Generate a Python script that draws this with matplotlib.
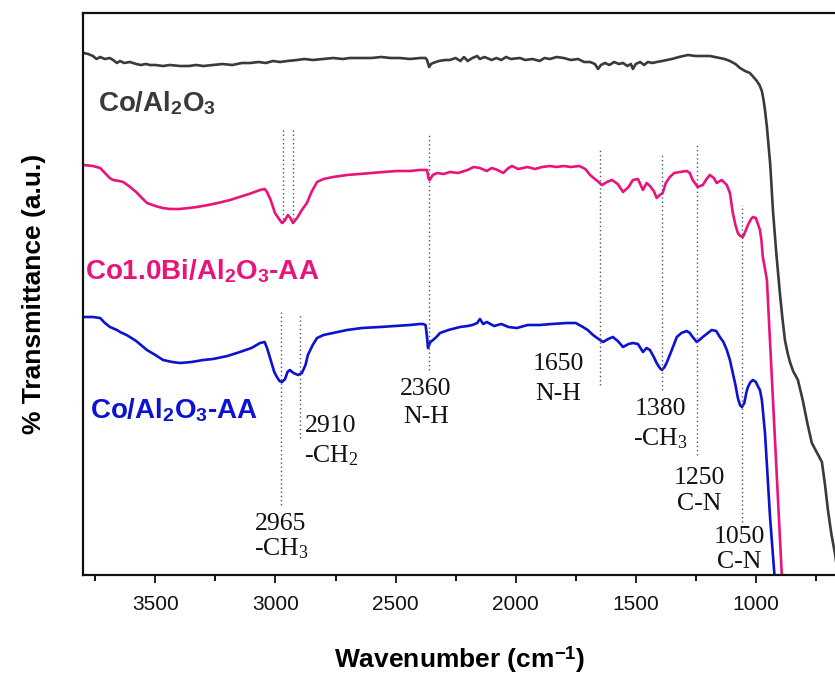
import matplotlib
matplotlib.use("Agg")
import matplotlib.pyplot as plt

# ---------------- data (wavenumber cm-1, transmittance a.u.) ----------------
wn_co = [3800, 3780, 3760, 3745, 3730, 3710, 3690, 3676, 3660, 3647, 3630, 3606, 3580, 3560,
         3540, 3522, 3500, 3468, 3440, 3397, 3360, 3330, 3300, 3260, 3220, 3180, 3140, 3106,
         3070, 3040, 3010, 2981, 2950, 2910, 2880, 2844, 2800, 2760, 2720, 2690, 2650, 2600,
         2560, 2520, 2482, 2440, 2398, 2375, 2369, 2360, 2352, 2344, 2320, 2294, 2274, 2250,
         2230, 2215, 2200, 2180, 2160, 2149, 2130, 2100, 2080, 2060, 2040, 2020, 1982, 1960,
         1930, 1900, 1880, 1857, 1830, 1800, 1770, 1740, 1715, 1690, 1670, 1657, 1645, 1628,
         1610, 1590, 1570, 1553, 1535, 1520, 1512, 1500, 1482, 1465, 1450, 1430, 1413, 1390,
         1350, 1320, 1283, 1250, 1230, 1191, 1150, 1130, 1108, 1085, 1066, 1045, 1025, 1010,
         996, 985, 975, 968, 962, 954, 940, 929, 915, 900, 890, 879, 868, 858, 845, 825, 805,
         784, 767, 745, 725, 712, 700, 685, 671, 650]
t_co = [522, 521, 519, 516, 518, 516, 517, 515, 512, 514, 512, 513, 511, 510,
        511, 510, 510, 509, 510, 509, 509, 510, 509, 510, 511, 510, 512, 512,
        513, 512, 514, 513, 514, 515, 516, 515, 516, 517, 516, 517, 517, 517,
        518, 517, 517, 516, 517, 517, 515, 508, 511, 512, 514, 515, 515, 517,
        514, 518, 514, 517, 519, 516, 518, 515, 517, 515, 518, 516, 517, 515,
        516, 514, 517, 516, 518, 517, 515, 516, 513, 513, 511, 506, 510, 512,
        510, 513, 511, 512, 509, 511, 506, 511, 513, 510, 513, 512, 513, 514,
        516, 518, 520, 519, 519, 519, 517, 516, 514, 511, 507, 504, 502, 498,
        494, 490, 484, 475, 465, 448, 410, 365, 322, 282, 258, 235, 222, 213, 204, 195, 175,
        150, 132, 122, 113, 90, 65, 40, 22, -15]

wn_bi = [3800, 3760, 3730, 3710, 3690, 3676, 3650, 3634, 3610, 3580, 3560, 3535, 3500, 3470,
         3439, 3400, 3360, 3327, 3280, 3240, 3189, 3150, 3110, 3064, 3045, 3035, 3020, 3002,
         2985, 2973, 2960, 2948, 2938, 2927, 2910, 2890, 2869, 2850, 2827, 2800, 2760, 2702,
         2650, 2600, 2550, 2494, 2440, 2400, 2369, 2362, 2358, 2345, 2327, 2300, 2273, 2240,
         2200, 2175, 2149, 2120, 2100, 2075, 2052, 2030, 2015, 1990, 1950, 1920, 1890, 1857,
         1830, 1800, 1770, 1735, 1710, 1690, 1665, 1640, 1620, 1599, 1575, 1553, 1530, 1512,
         1491, 1470, 1455, 1441, 1425, 1413, 1400, 1388, 1375, 1358, 1340, 1317, 1288, 1275,
         1263, 1242, 1221, 1205, 1192, 1175, 1163, 1142, 1121, 1108, 1096, 1085, 1075, 1065,
         1054, 1043, 1033, 1020, 1012, 1000, 990, 983, 977, 971, 962, 954, 892, 870]
t_bi = [410, 409, 407, 402, 397, 395, 394, 393, 389, 383, 378, 372, 369, 367,
        366, 366, 367, 368, 370, 372, 375, 378, 381, 385, 386, 383, 375, 362,
        356, 352, 355, 360, 357, 352, 357, 365, 372, 383, 393, 396, 398, 400,
        401, 402, 403, 404, 404, 405, 405, 396, 395, 400, 402, 401, 403, 402,
        405, 408, 407, 404, 407, 405, 402, 407, 409, 406, 408, 406, 408, 409,
        408, 409, 408, 409, 406, 400, 395, 390, 393, 395, 391, 383, 388, 395,
        396, 385, 392, 389, 384, 377, 380, 382, 392, 398, 402, 403, 404, 402,
        395, 388, 390, 396, 400, 397, 392, 395, 390, 382, 362, 350, 342, 339,
        338, 344, 350, 356, 358, 357, 350, 345, 335, 318, 306, 295, 0, -60]

wn_aa = [3800, 3760, 3730, 3710, 3689, 3660, 3647, 3620, 3606, 3580, 3560, 3535, 3500, 3468,
         3430, 3397, 3350, 3300, 3260, 3200, 3148, 3100, 3064, 3045, 3035, 3020, 3005, 2994,
         2983, 2973, 2960, 2950, 2940, 2925, 2906, 2890, 2875, 2865, 2845, 2827, 2800, 2760,
         2702, 2640, 2565, 2500, 2440, 2400, 2386, 2375, 2369, 2365, 2355, 2344, 2330, 2315,
         2280, 2232, 2200, 2180, 2160, 2149, 2135, 2120, 2090, 2060, 2030, 1995, 1950, 1900,
         1850, 1787, 1750, 1720, 1700, 1678, 1655, 1636, 1615, 1595, 1575, 1553, 1530, 1512,
         1491, 1470, 1455, 1441, 1425, 1413, 1400, 1391, 1380, 1370, 1350, 1329, 1310, 1288,
         1275, 1263, 1246, 1235, 1221, 1200, 1184, 1165, 1150, 1135, 1121, 1108, 1096, 1085,
         1075, 1066, 1058, 1048, 1040, 1033, 1022, 1012, 1000, 990, 983, 975, 962, 941, 921,
         900]
t_aa = [258, 258, 257, 252, 248, 245, 243, 240, 238, 234, 230, 225, 220, 215,
        213, 212, 213, 215, 216, 219, 223, 227, 232, 233, 227, 215, 203, 198,
        194, 193, 196, 203, 205, 202, 200, 202, 210, 220, 230, 237, 240, 242,
        245, 247, 248, 249, 250, 251, 251, 250, 238, 227, 233, 235, 238, 242,
        245, 248, 249, 250, 252, 256, 251, 253, 249, 251, 248, 247, 250, 250,
        251, 252, 252, 248, 245, 240, 236, 233, 236, 238, 234, 228, 231, 232,
        231, 223, 227, 225, 218, 212, 207, 205, 208, 213, 225, 238, 242, 244,
        242, 238, 233, 235, 238, 242, 245, 244, 238, 233, 225, 215, 202, 190,
        177, 170, 168, 172, 182, 188, 193, 195, 193, 188, 185, 175, 142, 58, -5,
        -90]

# annotation guide lines: wavenumber, lower and upper value
guide_wn = [2969, 2927, 2359, 1649, 1391, 1244, 1058, 2977, 2899]
guide_lo = [352, 352, 205, 190, 185, 120, 53, 70, 137]
guide_hi = [447, 447, 442, 427, 420, 432, 370, 263, 260]

labels = [("2965", r"-CH$_\mathrm{3}$"), ("2910", r"-CH$_\mathrm{2}$"), ("2360", "N-H"),
          ("1650", "N-H"), ("1380", r"-CH$_\mathrm{3}$"), ("1250", "C-N"), ("1050", "C-N")]

# ---------------- style ----------------
plt.rcParams['font.family'] = ['Liberation Sans', 'DejaVu Sans']
plt.rcParams['mathtext.fontset'] = 'custom'
plt.rcParams['mathtext.rm'] = 'Liberation Serif'
plt.rcParams['mathtext.bf'] = 'Liberation Sans:bold'
plt.rcParams['mathtext.it'] = 'Liberation Serif:italic'

W, H = 835, 677
fig = plt.figure(figsize=(W / 100, H / 100), dpi=100)
ax = fig.add_axes([83.3 / W, 1 - 575 / H, (W - 83.3) / W, 562 / H])

c_co, c_bi, c_aa = '#3a3a3a', '#e8147c', '#0b12d2'
ax.plot(wn_co, t_co, color=c_co, lw=1.9, solid_joinstyle='round')
ax.plot(wn_bi, t_bi, color=c_bi, lw=1.9, solid_joinstyle='round')
ax.plot(wn_aa, t_aa, color=c_aa, lw=1.9, solid_joinstyle='round')

ax.vlines(guide_wn, guide_lo, guide_hi, colors='#555555', linestyles=(0, (1, 2)), lw=1.0)

ax.set_xlim(3800, 3800 - (W - 83.3) * 500 / 120.1)
ax.set_ylim(0, 562)
ax.set_yticks([])
ax.spines['right'].set_visible(False)
for s in ('left', 'top', 'bottom'):
    ax.spines[s].set_linewidth(1.6)
    ax.spines[s].set_color('#111111')

ax.set_xticks([3500, 3000, 2500, 2000, 1500, 1000])
ax.set_xticks([3750, 3250, 2750, 2250, 1750, 1250, 750], minor=True)
ax.tick_params(axis='x', which='major', direction='out', length=5.5, width=1.3,
               labelsize=15, pad=9, colors='#111111')
ax.tick_params(axis='x', which='minor', direction='out', length=4, width=1.3)

ax.set_xlabel(r'Wavenumber (cm$^\mathbf{-1}$)', fontsize=19, fontweight='bold', labelpad=22)
ax.set_ylabel('% Transmittance (a.u.)', fontsize=19, fontweight='bold', labelpad=27)


def fx(x):
    return x / W


def fy(y):
    return 1 - y / H


# sample labels
fig.text(fx(98), fy(111), r'Co/Al$_\mathbf{2}$O$_\mathbf{3}$', color=c_co, fontsize=20,
         fontweight='bold', va='baseline', ha='left')
fig.text(fx(85), fy(279), r'Co1.0Bi/Al$_\mathbf{2}$O$_\mathbf{3}$-AA', color=c_bi, fontsize=20,
         fontweight='bold', va='baseline', ha='left')
fig.text(fx(90), fy(418), r'Co/Al$_\mathbf{2}$O$_\mathbf{3}$-AA', color=c_aa, fontsize=20,
         fontweight='bold', va='baseline', ha='left')

# band labels (x centre, baseline of number, baseline of group)
label_pos = [(281, 530, 555), (331, 432, 462), (426, 395, 423), (558, 370, 400),
             (660, 415, 445), (699, 484, 510), (739, 543, 568)]
for (num, grp), (xc, y1, y2) in zip(labels, label_pos):
    fig.text(fx(xc), fy(y1), num, family='Liberation Serif', fontsize=18.5, ha='center',
             va='baseline', color='#111111')
    fig.text(fx(xc), fy(y2), grp, family='Liberation Serif', fontsize=18.5, ha='center',
             va='baseline', color='#111111')

fig.savefig('out.png', dpi=100)
